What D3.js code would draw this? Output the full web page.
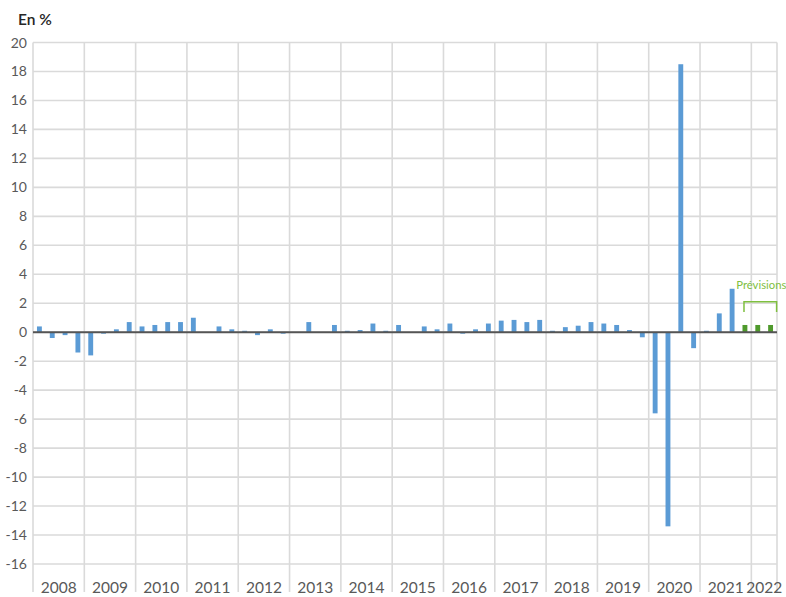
<!DOCTYPE html>
<html>
<head>
<meta charset="utf-8">
<script src="https://cdn.jsdelivr.net/npm/d3@7"></script>
<style>
  body { margin: 0; background: #fff; }
  text { font-family: Lato, "Liberation Sans Narrow", "DejaVu Sans Condensed", sans-serif; }
</style>
</head>
<body>
<svg id="chart" width="786" height="597"></svg>
<script>
// quarterly growth, 2008 T1 -> 2021 T3 (observed)
const years = [2008, 2009, 2010, 2011, 2012, 2013, 2014, 2015, 2016, 2017, 2018, 2019, 2020, 2021, 2022];
const quartersPerYear = [4, 4, 4, 4, 4, 4, 4, 4, 4, 4, 4, 4, 4, 4, 2];
const observed = [
  0.4, -0.4, -0.2, -1.4,
  -1.6, -0.1, 0.2, 0.7,
  0.4, 0.5, 0.7, 0.7,
  1.0, 0.0, 0.4, 0.2,
  0.1, -0.2, 0.2, -0.1,
  0.0, 0.7, 0.0, 0.5,
  0.1, 0.15, 0.6, 0.1,
  0.5, 0.0, 0.4, 0.2,
  0.6, -0.1, 0.2, 0.6,
  0.8, 0.85, 0.7, 0.85,
  0.1, 0.35, 0.45, 0.7,
  0.6, 0.5, 0.15, -0.35,
  -5.6, -13.4, 18.5, -1.1,
  0.1, 1.3, 3.0
];
// forecasts 2021 T4 -> 2022 T2
const forecast = [0.5, 0.5, 0.5];
const yTicks = d3.range(-16, 21, 2);

const svg = d3.select('#chart');
const plotL = 33, plotR = 777, plotT = 42.5, plotB = 564;

// build quarter list
let quarters = [];
years.forEach((yr, i) => {
  for (let q = 1; q <= quartersPerYear[i]; q++) quarters.push(yr + ' T' + q);
});
let values = observed.map(v => ({v: v, f: false}))
  .concat(forecast.map(v => ({v: v, f: true})));
values.forEach((d, i) => d.q = quarters[i]);

let x = d3.scaleBand().domain(quarters).range([plotL, plotR]).paddingInner(0.62).paddingOuter(0.31);
let step = x.step();
let y = d3.scaleLinear().domain([-16, 20]).range([plotB, plotT]);

let grid = svg.append('g');

// horizontal grid
grid.selectAll('line.h')
  .data(yTicks)
  .enter().append('line')
  .attr('x1', plotL).attr('x2', plotR)
  .attr('y1', d => y(d)).attr('y2', d => y(d))
  .attr('stroke', '#dadada').attr('stroke-width', 1.6);

// vertical grid at year boundaries
let offset = x(quarters[0]) - plotL;
let yearStarts = years.map(yr => x(yr + ' T1') - offset);
yearStarts.push(plotR);
grid.selectAll('line.v')
  .data(yearStarts)
  .enter().append('line')
  .attr('x1', d => d).attr('x2', d => d)
  .attr('y1', plotT).attr('y2', 592)
  .attr('stroke', '#dadada').attr('stroke-width', 1.6);

// y labels
svg.append('g').selectAll('text')
  .data(yTicks)
  .enter().append('text')
  .attr('x', 27).attr('y', d => y(d) + 5)
  .attr('text-anchor', 'end')
  .attr('font-size', 14)
  .attr('fill', '#595959')
  .text(d => d);

// year labels
svg.append('g').selectAll('text')
  .data(years)
  .enter().append('text')
  .attr('x', (d, i) => (yearStarts[i] + yearStarts[i + 1]) / 2)
  .attr('y', 593)
  .attr('text-anchor', 'middle')
  .attr('font-size', 15.5)
  .attr('fill', '#595959')
  .text(d => d);

// bars
svg.append('g').selectAll('rect')
  .data(values)
  .enter().append('rect')
  .attr('x', d => x(d.q))
  .attr('width', x.bandwidth())
  .attr('y', d => y(Math.max(0, d.v)))
  .attr('height', d => Math.abs(y(d.v) - y(0)))
  .attr('fill', d => d.f ? '#4f9a2c' : '#5b9bd5');

// zero line
svg.append('line')
  .attr('x1', plotL).attr('x2', plotR)
  .attr('y1', y(0)).attr('y2', y(0))
  .attr('stroke', '#555').attr('stroke-width', 2);

// forecast bracket
let fStart = x(values[observed.length].q) + 1.5;
let fEnd = x(quarters[quarters.length - 1]) + step * 0.62 + 0.5;
svg.append('path')
  .attr('d', `M${fStart},${y(1.4)}V${y(2.1)}H${fEnd}V${y(1.4)}`)
  .attr('fill', 'none')
  .attr('stroke', '#7fbf3f').attr('stroke-width', 1.5);
svg.append('text')
  .attr('x', (fStart + fEnd) / 2 + 1).attr('y', y(2.95))
  .attr('text-anchor', 'middle')
  .attr('font-size', 11.3)
  .attr('fill', '#7fbf3f')
  .text('Prévisions');

// title
svg.append('text')
  .attr('x', 18).attr('y', 25)
  .attr('font-size', 15.5)
  .attr('font-weight', 600)
  .attr('fill', '#262626')
  .text('En %');
</script>
</body>
</html>
